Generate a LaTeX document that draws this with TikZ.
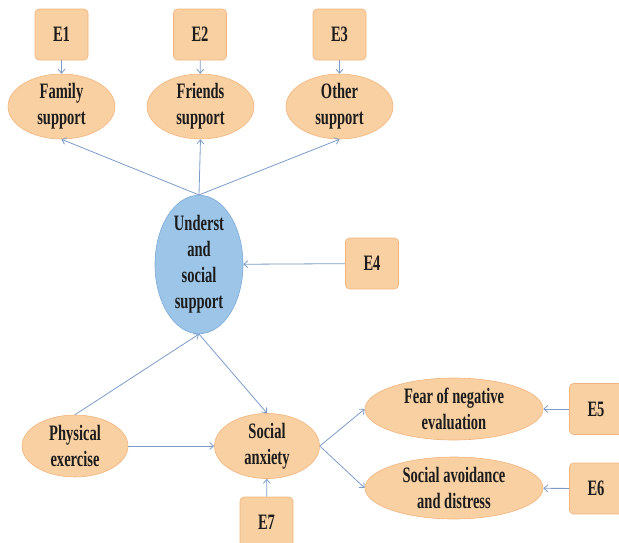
\documentclass[tikz,border=0pt]{standalone}
\usepackage{fontspec}
\setmainfont{Liberation Serif}[FakeStretch=0.66]
\usetikzlibrary{shapes.geometric,arrows.meta}
\definecolor{orfill}{HTML}{F9D0A2}
\definecolor{ordraw}{HTML}{F2B47C}
\definecolor{blfill}{HTML}{9DC5E7}
\definecolor{bldraw}{HTML}{7AAAD8}
\definecolor{arr}{HTML}{7B9CC9}
\definecolor{txt}{HTML}{1C1C1C}
\begin{document}
\begin{tikzpicture}[x=1pt,y=-1pt,
  lbl/.style={font=\fontsize{22}{26}\selectfont\bfseries, text=txt, align=center, inner sep=0pt},
  ebox/.style={lbl, rectangle, rounded corners=4pt, fill=orfill, draw=ordraw, line width=0.6pt, minimum width=53pt, minimum height=51pt},
  oell/.style={lbl, ellipse, fill=orfill, draw=ordraw, line width=0.6pt},
  bell/.style={lbl, ellipse, fill=blfill, draw=bldraw, line width=0.6pt},
  link/.style={draw=arr, line width=0.8pt, -{Straight Barb[length=4pt,width=7pt]}}]
\useasboundingbox (0,0) rectangle (619,542);
\clip (0,0) rectangle (619,542);
% error boxes
\node[ebox] (e1) at (61.5,34.5) {E1};
\node[ebox] (e2) at (200,34.5) {E2};
\node[ebox] (e3) at (339.5,34.5) {E3};
\node[ebox] (e4) at (372,263.5) {E4};
\node[ebox] (e5) at (596,409) {E5};
\node[ebox] (e6) at (596,488.5) {E6};
\node[ebox] (e7) at (266.5,522.5) {E7};
% indicators
\node[oell, minimum width=107pt, minimum height=61pt] (fam) at (61.5,106.5) {Family\\support};
\node[oell, minimum width=107pt, minimum height=61pt] (fri) at (200.5,106.5) {Friends\\support};
\node[oell, minimum width=107pt, minimum height=61pt] (oth) at (339.5,106.5) {Other\\support};
\node[bell, minimum width=88pt, minimum height=135pt] (und) at (199,264.5) {Underst\\and\\social\\support};
\node[oell, minimum width=106pt, minimum height=62pt] (phy) at (75,446) {Physical\\exercise};
\node[oell, minimum width=105pt, minimum height=64pt] (soc) at (267,446) {Social\\anxiety};
\node[oell, minimum width=178pt, minimum height=62pt] (fear) at (454,409) {Fear of negative\\evaluation};
\node[oell, minimum width=178pt, minimum height=62pt] (avo) at (454,488) {Social avoidance\\and distress};
% connectors
\draw[link] (e1) -- (fam);
\draw[link] (e2) -- (fri);
\draw[link] (e3) -- (oth);
\draw[link] (und.north) -- (fam.south);
\draw[link] (und.north) -- (fri.south);
\draw[link] (und.north) -- (oth.south);
\draw[link] (e4) -- (und);
\draw[link] (phy.north) -- (und.south);
\draw[link] (und.south) -- (soc.north);
\draw[link] (phy) -- (soc);
\draw[link] (e7) -- (soc);
\draw[link] (soc.east) -- (fear.west);
\draw[link] (soc.east) -- (avo.west);
\draw[link] (e5) -- (fear);
\draw[link] (e6) -- (avo);
\end{tikzpicture}
\end{document}
